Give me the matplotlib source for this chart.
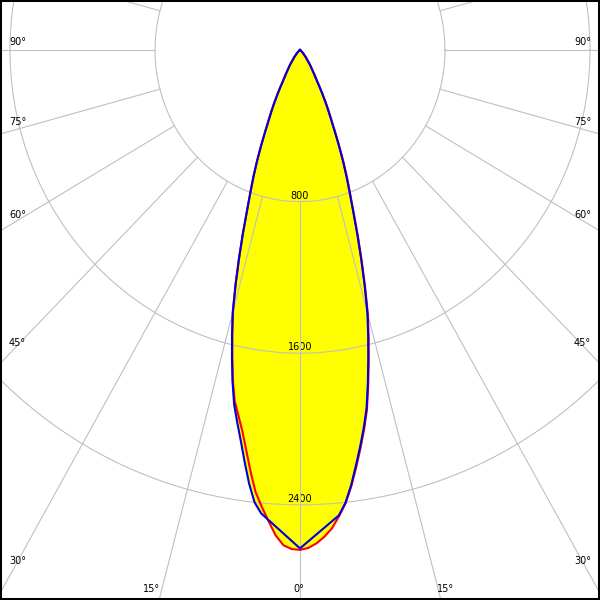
import numpy as np
import matplotlib
matplotlib.use("Agg")
import matplotlib.pyplot as plt

# Datos de la curva fotometrica (cd) - angulos gamma en grados
gamma_c0 = list(range(0, 31)) + [32, 35, 40, 45, 50, 60, 70, 80, 90]
int_c0 = [2638, 2628, 2605, 2572, 2530, 2470, 2405, 2320, 2225, 2130,
          2035, 1935, 1810, 1685, 1565, 1448, 1305, 1165, 1033, 910,
          810, 727, 643, 560, 482, 415, 363, 314, 267, 224,
          186, 140, 98, 50, 25, 12, 4, 0, 0, 0]
int_c180 = [2638, 2634, 2615, 2565, 2492, 2420, 2345, 2240, 2132, 2035,
            1958, 1888, 1783, 1660, 1543, 1428, 1290, 1150, 1020, 898,
            800, 716, 633, 550, 474, 410, 360, 312, 265, 222,
            185, 140, 98, 50, 25, 12, 4, 0, 0, 0]

gamma_c90 = [0] + list(range(5, 31)) + [32, 35, 40, 45, 50, 60, 70, 80, 90]
int_c90 = [2630, 2465, 2402, 2315, 2215, 2120,
           2025, 1925, 1800, 1675, 1555, 1437, 1295, 1155, 1024, 902,
           802, 718, 635, 552, 475, 410, 360, 312, 265, 222,
           185, 140, 98, 50, 25, 12, 4, 0, 0, 0]
int_c270 = [2630, 2455, 2400, 2305, 2195, 2088,
            1995, 1905, 1790, 1668, 1550, 1435, 1292, 1153, 1022, 900,
            802, 718, 635, 552, 475, 410, 360, 312, 265, 222,
            185, 140, 98, 50, 25, 12, 4, 0, 0, 0]

# Rejilla
circulos = [800, 1600, 2400]
etiquetas_circ = ["800", "1600", "2400"]
radios_ang = list(range(0, 360, 15))
etiquetas_izq = ["90°", "75°", "60°", "45°", "30°"]
etiquetas_inf = ["15°", "0°", "15°"]
etiquetas_der = ["90°", "75°", "60°", "45°", "30°"]

# Escala (pixeles por candela) y centro del diagrama en pixeles
px_x = 145.0 / 800
px_y = 151.6 / 800
cx, cy = 300, 50
gris = "#c0c0c0"


def a_xy(gamma, inten, lado):
    g = np.radians(gamma)
    i = np.array(inten, dtype=float)
    return lado * i * np.sin(g), -i * np.cos(g)


def curva(gamma, izq, der):
    xl, yl = a_xy(gamma, izq, -1)
    xr, yr = a_xy(gamma, der, 1)
    return np.concatenate([xl[::-1], xr]), np.concatenate([yl[::-1], yr])


fig = plt.figure(figsize=(6, 6), dpi=100)
ax = fig.add_axes([0, 0, 1, 1])
ax.set_xlim(-cx / px_x, (600 - cx) / px_x)
ax.set_ylim(-(600 - cy) / px_y, cy / px_y)
ax.set_xticks([])
ax.set_yticks([])
for s in ax.spines.values():
    s.set_linewidth(2.9)
    s.set_color("black")

# Relleno amarillo (union de los dos planos)
xr, yr = curva(gamma_c0, int_c180, int_c0)
xb, yb = curva(gamma_c90, int_c270, int_c90)
ax.fill(xr, yr, color="#ffff00", lw=0, zorder=1)
ax.fill(xb, yb, color="#ffff00", lw=0, zorder=1)

# Circulos y radios
t = np.linspace(0, 2 * np.pi, 721)
for r, lab in zip(circulos, etiquetas_circ):
    ax.plot(r * np.cos(t), r * np.sin(t), color=gris, lw=0.8, zorder=2)
    ax.annotate(lab, (0, -r), xytext=(0, 3), textcoords="offset pixels",
                ha="center", va="baseline", fontsize=7, zorder=1.5)
for a in radios_ang:
    g = np.radians(a)
    ax.plot([800 * np.sin(g), 6000 * np.sin(g)], [-800 * np.cos(g), -6000 * np.cos(g)],
            color=gris, lw=0.8, zorder=2)

# Curvas
ax.plot(xr, yr, color="#ff0000", lw=1.5, zorder=3)
ax.plot(xb, yb, color="#0000dd", lw=1.5, zorder=4)

# Etiquetas de angulos (posiciones en pixeles)
ys_lat = [42, 122, 215, 342.5, 561]
for lab, y in zip(etiquetas_izq, ys_lat):
    fig.text(9 / 600, 1 - y / 600, lab, ha="left", va="center", fontsize=7)
for lab, y in zip(etiquetas_der, ys_lat):
    fig.text(591 / 600, 1 - y / 600, lab, ha="right", va="center", fontsize=7)
for lab, x in zip(etiquetas_inf, [151.5, 299, 446]):
    fig.text(x / 600, 1 - 589 / 600, lab, ha="center", va="center", fontsize=7)

fig.savefig("out.png", dpi=100)
